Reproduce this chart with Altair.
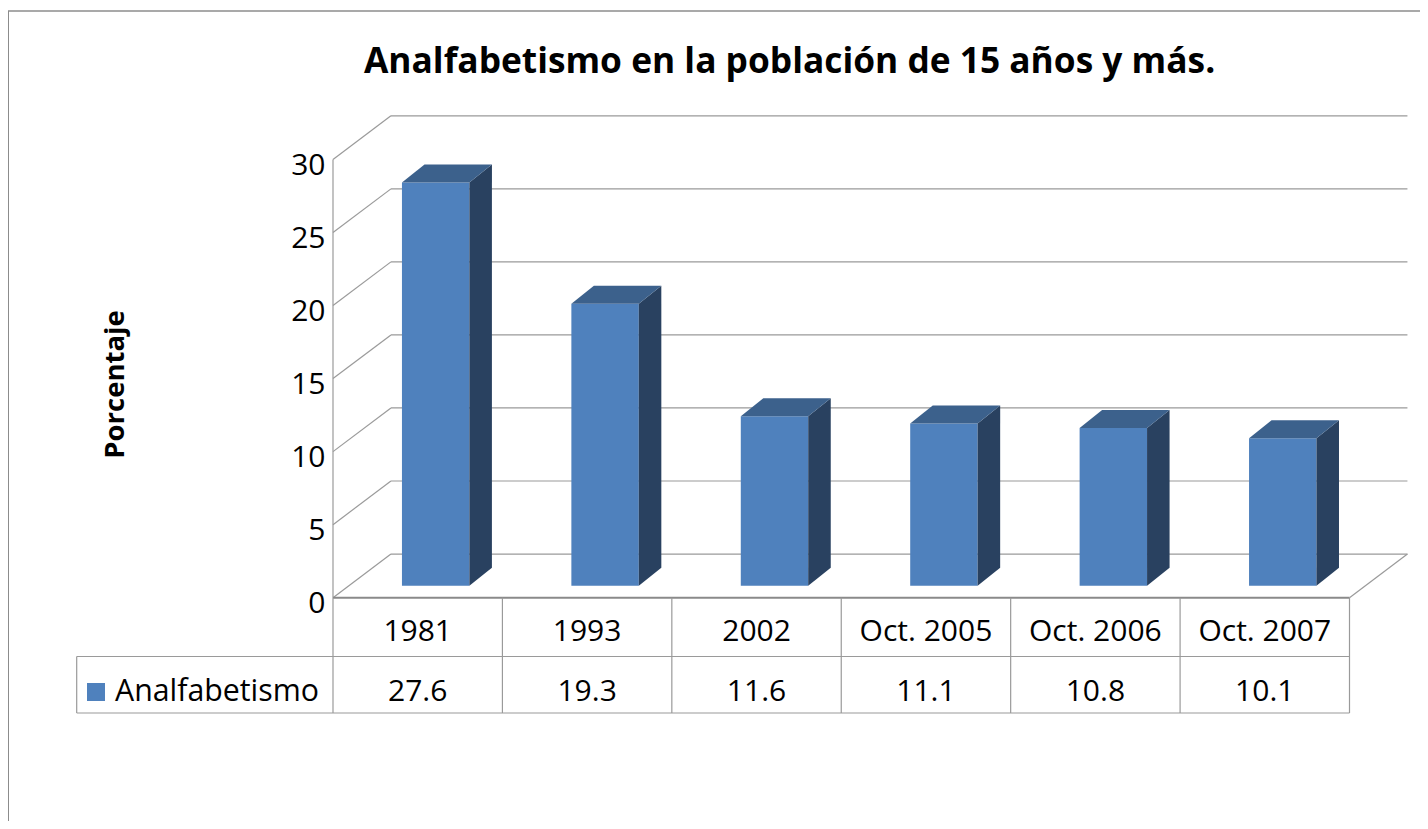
import altair as alt
import pandas as pd

# --- values
categories = ["1981", "1993", "2002", "Oct. 2005", "Oct. 2006", "Oct. 2007"]
values = [27.6, 19.3, 11.6, 11.1, 10.8, 10.1]
y_ticks = [0, 5, 10, 15, 20, 25, 30]
series_name = "Analfabetismo"
title_text = "Analfabetismo en la población de 15 años y más."
y_title = "Porcentaje"

FONT = "Open Sans"
FRONT, TOP, SIDE = "#4f81bd", "#3c618c", "#294160"
GRID = "#9a9a9a"

# --- pseudo 3-D geometry, in units of the two scales (slot, percent)
WALL_DX, WALL_DY = 0.342, 2.99     # depth of the floor / walls
BAR_DX, BAR_DY = 0.133, 1.23       # depth of a column
BAR_LEFT, BAR_WIDTH = 0.407, 0.398 # column inside its slot
BAR_BASE = 0.82                    # column foot above the front floor edge
N = len(categories)

x_scale = alt.Scale(domain=[0, N], range=[325, 1341.5], nice=False, zero=False)
y_scale = alt.Scale(domain=[0, 30], range=[589.7, 151.5], nice=False, zero=False)

y_axis = alt.Axis(
    values=y_ticks, domain=False, ticks=False, grid=False, offset=-322,
    labelFont=FONT, labelFontSize=30, labelColor="#000000", labelPadding=5,
    labelOffset=6, title=y_title, titleFont=FONT, titleFontSize=27.5,
    titleFontWeight="bold", titleColor="#000000", titleAngle=-90,
    titleX=-215, titleY=376, titleAlign="center", titleBaseline="middle",
)

def X(f):
    return alt.X(f"{f}:Q", scale=x_scale, axis=None)

def Y(f):
    return alt.Y(f"{f}:Q", scale=y_scale, axis=y_axis)

# wall, floor and gridlines
segments = []
for t in y_ticks:
    segments.append(dict(x=0, x2=WALL_DX, y=t, y2=t + WALL_DY))
    segments.append(dict(x=WALL_DX, x2=N + WALL_DX, y=t + WALL_DY, y2=t + WALL_DY))
segments.append(dict(x=0, x2=0, y=0, y2=30))
segments.append(dict(x=N, x2=N + WALL_DX, y=0, y2=WALL_DY))
grid = alt.Chart(pd.DataFrame(segments)).mark_rule(color=GRID, strokeWidth=1.2).encode(
    x=X("x"), x2="x2:Q", y=Y("y"), y2="y2:Q"
)

# columns
front_rows, side_rows, top_rows = [], [], []
for i, (c, v) in enumerate(zip(categories, values)):
    l = i + BAR_LEFT
    r = l + BAR_WIDTH
    b = BAR_BASE
    t = b + v
    front_rows.append(dict(c=c, l=l, r=r, b=b, t=t))
    side_rows += [dict(c=c, x=r, y=t, y2=b), dict(c=c, x=r + BAR_DX, y=t + BAR_DY, y2=b + BAR_DY)]
    top_rows += [
        dict(c=c, x=l, y=t, y2=t),
        dict(c=c, x=l + BAR_DX, y=t + BAR_DY, y2=t),
        dict(c=c, x=r, y=t + BAR_DY, y2=t),
        dict(c=c, x=r + BAR_DX, y=t + BAR_DY, y2=t + BAR_DY),
    ]

front = alt.Chart(pd.DataFrame(front_rows)).mark_rect(color=FRONT).encode(
    x=X("l"), x2="r:Q", y=Y("b"), y2="t:Q"
)
side = alt.Chart(pd.DataFrame(side_rows)).mark_area(color=SIDE, opacity=1).encode(
    x=X("x"), y=Y("y"), y2="y2:Q", detail="c:N"
)
top = alt.Chart(pd.DataFrame(top_rows)).mark_area(color=TOP, opacity=1).encode(
    x=X("x"), y=Y("y"), y2="y2:Q", detail="c:N"
)

# data table
ROW1_Y, ROW2_Y = 624, 683.5
TABLE_TOP, ROW_LINE, TABLE_BOTTOM, TABLE_LEFT = 589.7, 648.5, 705, 68.7
one = pd.DataFrame({"a": [0], "b": [N]})
floor_line = alt.Chart(one).mark_rule(color="#8a8a8a", strokeWidth=2).encode(
    x=X("a"), x2="b:Q", y=alt.value(TABLE_TOP)
)
v_lines = alt.Chart(pd.DataFrame({"s": list(range(N + 1))})).mark_rule(color=GRID, strokeWidth=1.2).encode(
    x=X("s"), y=alt.value(TABLE_TOP), y2=alt.value(TABLE_BOTTOM)
)
h_line1 = alt.Chart(one).mark_rule(color=GRID, strokeWidth=1.2).encode(
    x=alt.value(TABLE_LEFT), x2=alt.value(1341.5), y=alt.value(ROW_LINE)
)
h_line2 = alt.Chart(one).mark_rule(color=GRID, strokeWidth=1.2).encode(
    x=alt.value(TABLE_LEFT), x2=alt.value(1341.5), y=alt.value(TABLE_BOTTOM)
)
left_line = alt.Chart(one).mark_rule(color=GRID, strokeWidth=1.2).encode(
    x=alt.value(TABLE_LEFT), y=alt.value(ROW_LINE), y2=alt.value(TABLE_BOTTOM)
)

table = pd.DataFrame({
    "s": [i + 0.5 for i in range(N)],
    "cat": categories,
    "val": [f"{v:.1f}" for v in values],
})
row1 = alt.Chart(table).mark_text(font=FONT, fontSize=30, color="#000000", baseline="middle").encode(
    x=X("s"), y=alt.value(ROW1_Y), text="cat:N"
)
row2 = alt.Chart(table).mark_text(font=FONT, fontSize=30, color="#000000", baseline="middle").encode(
    x=X("s"), y=alt.value(ROW2_Y), text="val:N"
)

legend_df = pd.DataFrame({"name": [series_name]})
swatch = alt.Chart(legend_df).mark_square(color=FRONT, size=324, opacity=1).encode(
    x=alt.value(88), y=alt.value(684)
)
legend_text = alt.Chart(legend_df).mark_text(
    font=FONT, fontSize=30.3, color="#000000", align="left", baseline="middle"
).encode(x=alt.value(107), y=alt.value(ROW2_Y), text="name:N")

# outer frame of the chart object
frame_top = alt.Chart(one).mark_rule(color="#8c8c8c", strokeWidth=1.5).encode(
    x=alt.value(0), x2=alt.value(1412), y=alt.value(3)
)
frame_left = alt.Chart(one).mark_rule(color="#8c8c8c", strokeWidth=2).encode(
    x=alt.value(0), y=alt.value(3), y2=alt.value(813)
)

chart = alt.layer(
    frame_top, frame_left, grid, front, side, top,
    floor_line, v_lines, h_line1, h_line2, left_line, row1, row2, swatch, legend_text,
).properties(
    width=1412,
    height=813,
    padding=0,
    autosize=alt.AutoSizeParams(type="none"),
    background="#ffffff",
    title=alt.TitleParams(
        title_text, font=FONT, fontSize=35.3, fontWeight="bold", color="#000000",
        anchor="start", frame="group", dx=356, dy=100, offset=0, baseline="alphabetic",
    ),
).configure_view(stroke=None)

chart.save("out.html", embed_options={"renderer": "svg", "actions": False})
